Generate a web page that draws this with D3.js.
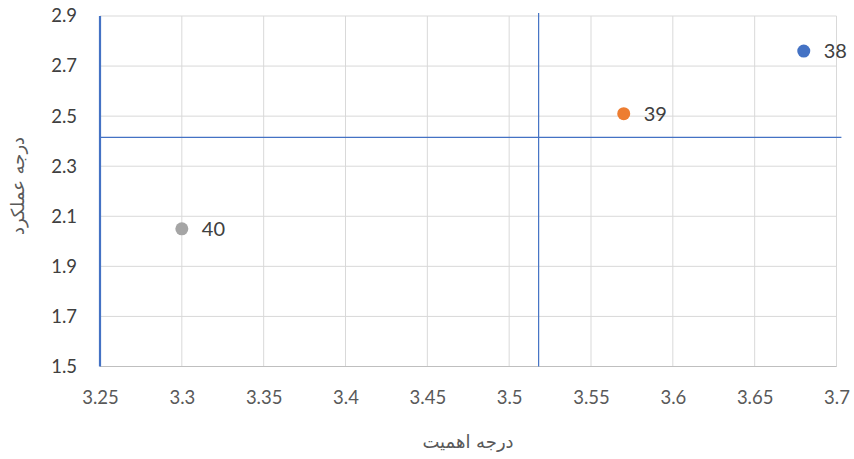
<!DOCTYPE html>
<html><head><meta charset="utf-8">
<script src="https://cdn.jsdelivr.net/npm/d3@7"></script>
<style>body{margin:0;background:#fff}</style>
</head><body>
<svg id="c" width="854" height="459"></svg>
<script>
const labels = ["38", "39", "40"];
const xValues = [3.68, 3.57, 3.30];
const yValues = [2.76, 2.51, 2.05];
const colors = ["#4472C4", "#ED7D31", "#A5A5A5"];
const xTicks = [3.25, 3.3, 3.35, 3.4, 3.45, 3.5, 3.55, 3.6, 3.65, 3.7];
const yTicks = [1.5, 1.7, 1.9, 2.1, 2.3, 2.5, 2.7, 2.9];
const vLineX = [3.518, 3.518];
const vLineY = [1.5, 2.912];
const hLineX = [3.25, 3.703];
const hLineY = [2.415, 2.415];
const leftLineX = [3.25, 3.25];
const leftLineY = [1.5, 2.9];
const xTitle = "درجه اهمیت";
const yTitle = "درجه عملکرد";

const svg = d3.select("#c");
const x = d3.scaleLinear().domain([3.25, 3.7]).range([100, 836.5]);
const y = d3.scaleLinear().domain([1.5, 2.9]).range([366.5, 16]);
const font = "Lato, 'Open Sans', sans-serif";
const arFont = "'DejaVu Sans', 'Noto Sans', sans-serif";

// gridlines
svg.append("g").selectAll("line").data(xTicks).join("line")
  .attr("x1", d => x(d)).attr("x2", d => x(d)).attr("y1", y(2.9)).attr("y2", y(1.5))
  .attr("stroke", "#d9d9d9").attr("stroke-width", 1);
svg.append("g").selectAll("line").data(yTicks).join("line")
  .attr("x1", x(3.25)).attr("x2", x(3.7)).attr("y1", d => y(d)).attr("y2", d => y(d))
  .attr("stroke", "#d9d9d9").attr("stroke-width", 1);
svg.append("line").attr("x1", x(3.25)).attr("x2", x(3.7)).attr("y1", y(1.5)).attr("y2", y(1.5))
  .attr("stroke", "#bfbfbf").attr("stroke-width", 1);

// axes
const xAxis = svg.append("g").attr("transform", `translate(0,${y(1.5)})`)
  .call(d3.axisBottom(x).tickValues(xTicks).tickSize(0).tickPadding(24).tickFormat(d3.format("")));
xAxis.select(".domain").remove();
xAxis.selectAll("text").attr("font-family", font).attr("font-size", 18.5).attr("fill", "#595959");

const yAxis = svg.append("g").attr("transform", `translate(${x(3.25)},0)`)
  .call(d3.axisLeft(y).tickValues(yTicks).tickSize(0).tickPadding(23).tickFormat(d3.format("")));
yAxis.select(".domain").remove();
yAxis.selectAll("text").attr("font-family", font).attr("font-size", 18.5).attr("fill", "#404040");

// blue reference lines
const line = d3.line().x(d => x(d[0])).y(d => y(d[1]));
svg.append("path").datum(d3.zip(leftLineX, leftLineY)).attr("d", line)
  .attr("stroke", "#4472C4").attr("stroke-width", 2.2).attr("fill", "none");
svg.append("path").datum(d3.zip(vLineX, vLineY)).attr("d", line)
  .attr("stroke", "#4472C4").attr("stroke-width", 1.2).attr("fill", "none");
svg.append("path").datum(d3.zip(hLineX, hLineY)).attr("d", line)
  .attr("stroke", "#4472C4").attr("stroke-width", 1.2).attr("fill", "none");

// points
const pts = labels.map((l, i) => ({l, x: xValues[i], y: yValues[i], c: colors[i]}));
svg.append("g").selectAll("circle").data(pts).join("circle")
  .attr("cx", d => x(d.x)).attr("cy", d => y(d.y)).attr("r", 6.5).attr("fill", d => d.c);
svg.append("g").selectAll("text").data(pts).join("text")
  .attr("x", d => x(d.x) + 20).attr("y", d => y(d.y) + 7)
  .attr("font-family", font).attr("font-size", 20).attr("fill", "#404040")
  .text(d => d.l);

// titles
svg.append("text").attr("x", 468).attr("y", 448).attr("text-anchor", "middle")
  .attr("font-family", arFont).attr("font-size", 18).attr("fill", "#595959")
  .text(xTitle);
svg.append("text").attr("transform", "translate(24,186) rotate(-90)").attr("text-anchor", "middle")
  .attr("font-family", arFont).attr("font-size", 18).attr("fill", "#595959")
  .text(yTitle);
</script>
</body></html>
